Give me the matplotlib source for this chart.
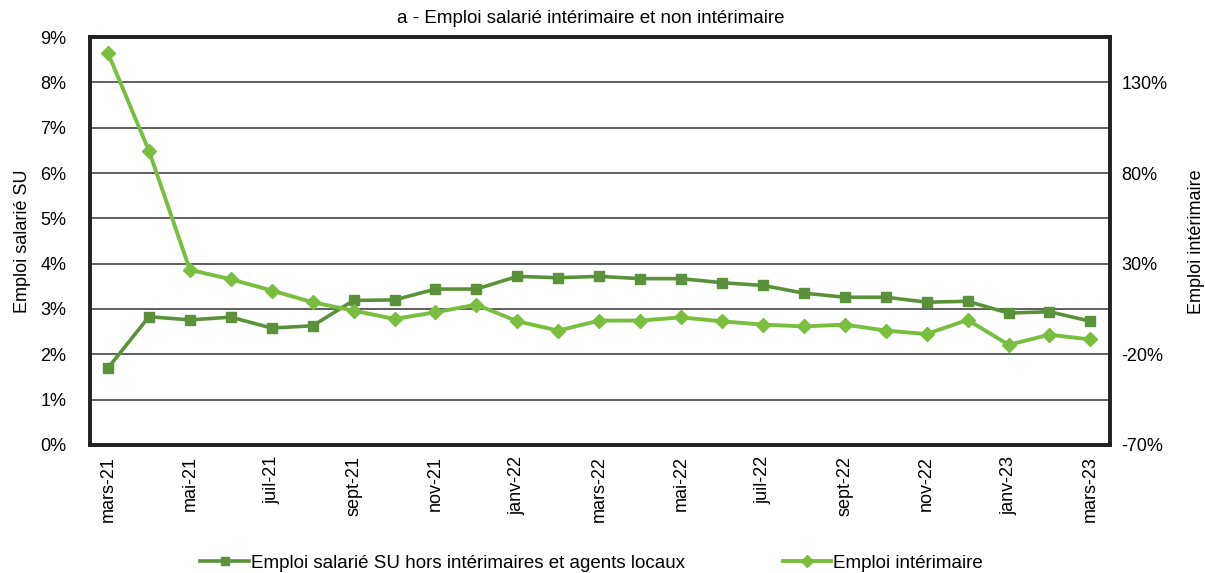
import matplotlib
matplotlib.use("Agg")
import matplotlib.pyplot as plt
from matplotlib.ticker import FuncFormatter, MultipleLocator

plt.rcParams["font.family"] = ["Liberation Sans", "DejaVu Sans"]

# monthly points, mars-21 .. mars-23
months = ["mars-21", "avr-21", "mai-21", "juin-21", "juil-21", "août-21",
          "sept-21", "oct-21", "nov-21", "déc-21", "janv-22", "févr-22",
          "mars-22", "avr-22", "mai-22", "juin-22", "juil-22", "août-22",
          "sept-22", "oct-22", "nov-22", "déc-22", "janv-23", "févr-23",
          "mars-23"]
# left axis (%)
emploi_su = [1.70, 2.83, 2.76, 2.82, 2.58, 2.63, 3.19, 3.20, 3.44, 3.44,
             3.72, 3.69, 3.72, 3.67, 3.67, 3.58, 3.52, 3.35, 3.26, 3.26,
             3.15, 3.17, 2.91, 2.94, 2.73]
# right axis (%)
emploi_interim = [146.1, 92.2, 26.6, 21.4, 15.2, 8.7, 4.1, -0.5, 3.2, 7.4,
                  -1.8, -6.9, -1.4, -1.4, 0.4, -1.8, -3.6, -4.6, -3.6, -6.9,
                  -8.8, -1.0, -14.7, -9.2, -11.8]
right_ticks = [-70, -20, 30, 80, 130]

label_su = "Emploi salarié SU hors intérimaires et agents locaux"
label_interim = "Emploi intérimaire"
dark_green = "#5b913a"
light_green = "#79be3f"

fig = plt.figure(figsize=(12.05, 5.73), dpi=100)
ax = fig.add_axes([0.0747, 0.2234, 0.8465, 0.712])
ax2 = ax.twinx()

x = list(range(len(months)))
ax.plot(x, emploi_su, color=dark_green, lw=2.6, marker="s", ms=7,
        label=label_su, zorder=3)
ax2.plot(x, emploi_interim, color=light_green, lw=2.8, marker="D", ms=7.5,
         label=label_interim, zorder=3)

ax.set_xlim(-0.44, 24.48)
ax.set_ylim(0, 9)
ax2.set_ylim(-70, 155)
ax.yaxis.set_major_locator(MultipleLocator(1))
ax2.set_yticks(right_ticks)
ax.yaxis.set_major_formatter(FuncFormatter(lambda v, p: f"{v:.0f}%"))
ax2.yaxis.set_major_formatter(FuncFormatter(lambda v, p: f"{v:.0f}%"))

ax.set_xticks(x[::2])
ax.set_xticklabels(months[::2], rotation=90, fontsize=13)
ax.tick_params(axis="x", length=0, pad=8)
ax.tick_params(axis="y", length=0, pad=17, labelsize=13)
ax2.tick_params(axis="y", length=0, pad=8, labelsize=13)

ax.grid(axis="y", color="#444444", lw=1.2)
ax.set_axisbelow(True)
for a in (ax, ax2):
    for s in a.spines.values():
        s.set_linewidth(2.6)
        s.set_color("#222222")

ax.set_ylabel("Emploi salarié SU", fontsize=13, labelpad=7)
fig.text(0.993, 0.579, "Emploi intérimaire", fontsize=13, rotation=90,
         ha="center", va="center")
fig.text(0.4905, 0.967, "a - Emploi salarié intérimaire et non intérimaire",
         fontsize=13.5, ha="center", va="center")

h1, l1 = ax.get_legend_handles_labels()
h2, l2 = ax2.get_legend_handles_labels()
fig.legend(h1 + h2, l1 + l2, loc="center", bbox_to_anchor=(0.491, 0.017),
           ncol=2, frameon=False, fontsize=13.5, handlelength=2.6,
           handletextpad=0.1, columnspacing=5.2, markerscale=0.8)

fig.savefig("out.png", dpi=100)
